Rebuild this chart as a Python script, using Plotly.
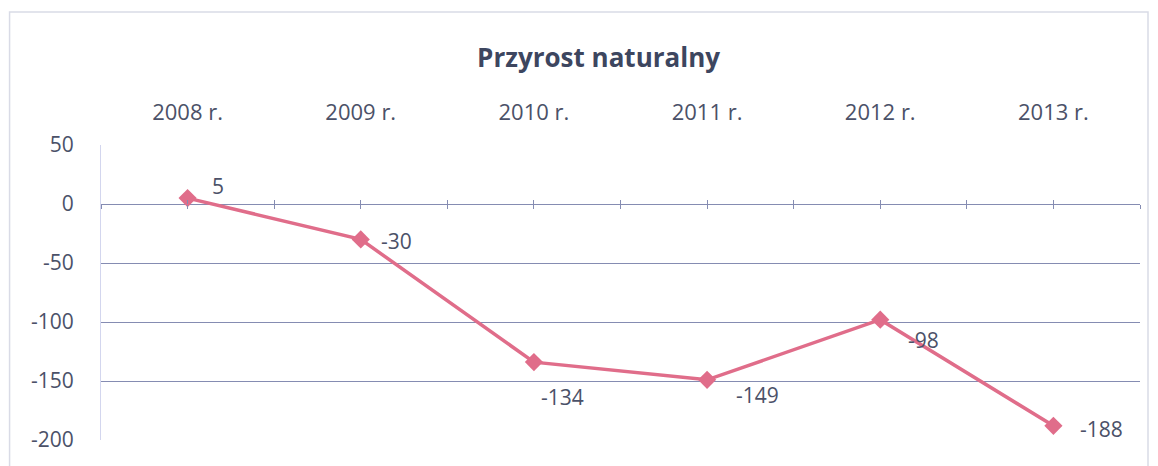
import plotly.graph_objects as go

# data
years = ["2008 r.", "2009 r.", "2010 r.", "2011 r.", "2012 r.", "2013 r."]
growth = [5, -30, -134, -149, -98, -188]

y_ticks = [50, 0, -50, -100, -150, -200]
y_tick_text = ["50", "0", "-50", "-100", "-150", "-200"]

# pixel offsets of each data label from its point (style only)
label_dx = [30, 36, 29, 50, 43, 48]
label_dy = [12, -2, -35, -15, -20, -3]

LINE_COLOR = "#e06d8a"
TEXT_COLOR = "#4b5168"
GRID_COLOR = "#858cb2"
FONT = "'Open Sans', Lato, sans-serif"

fig = go.Figure()
fig.add_trace(
    go.Scatter(
        x=years,
        y=growth,
        mode="lines+markers",
        line=dict(color=LINE_COLOR, width=3.5),
        marker=dict(symbol="diamond", size=14, color=LINE_COLOR),
        cliponaxis=False,
        showlegend=False,
        hoverinfo="skip",
    )
)
# empty traces so the tick-mark axes on the zero line get drawn
for ax in ("x2", "x3"):
    fig.add_trace(go.Scatter(x=[], y=[], xaxis=ax, showlegend=False, hoverinfo="skip"))

for yr, v, dx, dy in zip(years, growth, label_dx, label_dy):
    fig.add_annotation(
        x=yr, y=v, text=str(v), showarrow=False,
        xshift=dx, yshift=dy,
        font=dict(size=21, color=TEXT_COLOR, family=FONT),
    )

tick_axis = dict(
    overlaying="x",
    anchor="free",
    position=0.8,
    range=[-0.5, 5.5],
    tick0=-0.5,
    dtick=0.5,
    ticklen=4,
    tickwidth=1,
    tickcolor=GRID_COLOR,
    showticklabels=False,
    showgrid=False,
    showline=False,
    zeroline=False,
)

fig.update_layout(
    width=1158,
    height=466,
    title=dict(
        text="<b>Przyrost naturalny</b>",
        x=0.51, xanchor="center", y=0.893, yanchor="middle",
        font=dict(size=26, color="#3d465f", family=FONT),
    ),
    xaxis=dict(
        type="category",
        side="top",
        range=[-0.5, 5.5],
        showgrid=False,
        showline=False,
        ticks="",
        tickfont=dict(size=22, color=TEXT_COLOR, family=FONT),
        ticklabelstandoff=20,
    ),
    xaxis2=dict(tick_axis, ticks="outside"),
    xaxis3=dict(tick_axis, ticks="inside"),
    yaxis=dict(
        range=[-200, 50],
        tickvals=y_ticks,
        ticktext=y_tick_text,
        showgrid=True,
        gridcolor=GRID_COLOR,
        gridwidth=1.2,
        zeroline=True,
        zerolinecolor=GRID_COLOR,
        zerolinewidth=1.2,
        showline=True,
        linecolor="#d3d6ee",
        linewidth=1,
        ticks="",
        tickfont=dict(size=21, color=TEXT_COLOR, family=FONT),
        ticklabelstandoff=22,
    ),
    shapes=[
        dict(
            type="rect", xref="paper", yref="paper",
            x0=-0.088, x1=1.0077, y0=-0.12, y1=1.451,
            line=dict(color="#d9dbe6", width=1.5),
            fillcolor="rgba(0,0,0,0)",
            layer="below",
        )
    ],
    plot_bgcolor="white",
    paper_bgcolor="white",
    margin=dict(l=93, r=26, t=137, b=34),
)

fig.write_html("out.html")
